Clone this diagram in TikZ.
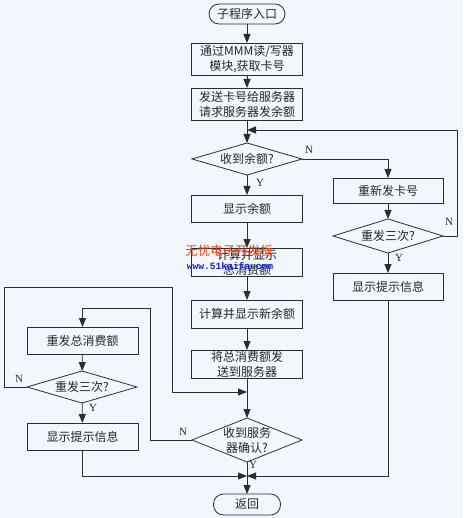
\documentclass[tikz,border=0pt]{standalone}
\usepackage{fontspec}
\setmainfont{Liberation Serif}
\newfontfamily\cjk{Noto Sans CJK SC}
\newfontfamily\wmono{Liberation Mono}
\usetikzlibrary{shapes.geometric,arrows.meta}
\definecolor{bgc}{RGB}{241,247,253}
\definecolor{lnc}{RGB}{45,45,45}
\definecolor{wmred}{RGB}{255,60,10}
\definecolor{wmblue}{RGB}{20,30,230}
\begin{document}
\begin{tikzpicture}[x=1pt,y=-1pt,
  every node/.style={inner sep=0pt,outer sep=0pt},
  ln/.style={draw=lnc,line width=0.8pt},
  arr/.style={ln,-{Triangle[length=9pt,width=7pt]}},
  proc/.style={draw=lnc,line width=0.8pt,rectangle,minimum width=111pt,align=center,
    font=\cjk\fontsize{12}{15}\selectfont,text=black!85},
  term/.style={draw=lnc,line width=0.8pt,rectangle,rounded corners=10pt,
    font=\cjk\fontsize{12}{15}\selectfont,text=black!85},
  dec/.style={draw=lnc,line width=0.8pt,diamond,minimum width=110pt},
  dtxt/.style={align=center,font=\cjk\fontsize{12}{15}\selectfont,text=black!85},
  lab/.style={font=\fontsize{11}{12}\selectfont,text=black!85}
]
\fill[bgc] (0,0) rectangle (463,518);
\useasboundingbox (0,0) rectangle (463,518);

% main column
\node[term,minimum width=76pt,minimum height=20pt] (start) at (247,14) {子程序入口};
\node[proc,minimum height=32pt] (b1) at (247,59) {通过MMM读/写器\\模块,获取卡号};
\node[proc,minimum height=32pt] (b2) at (247,104) {发送卡号给服务器\\请求服务器发余额};
\node[dec,minimum height=32pt] (d1) at (247,159) {};
\node[dtxt] (d1t) at (d1) {收到余额?};
\node[proc,minimum height=27pt] (b3) at (247,208.5) {显示余额};
\node[proc,minimum height=28pt] (b4) at (247,262) {计算并显示\\总消费额};
\node[proc,minimum height=28pt] (b5) at (247,314) {计算并显示新余额};
\node[proc,minimum height=28pt] (b6) at (247,364) {将总消费额发\\送到服务器};
\node[dec,minimum height=44pt] (d4) at (247,440) {};
\node[dtxt] (d4t) at (d4) {收到服务\\器确认?};
\node[term,minimum width=67pt,minimum height=21pt] (ret) at (247,504.5) {返回};

% right column
\node[proc,minimum width=110pt,minimum height=25pt] (r1) at (388,190.5) {重新发卡号};
\node[dec,minimum height=34pt] (d2) at (388,236) {};
\node[dtxt] (d2t) at (d2) {重发三次?};
\node[proc,minimum width=110pt,minimum height=27pt] (r2) at (388,286.5) {显示提示信息};

% left column
\node[proc,minimum width=111pt,minimum height=27pt] (l1) at (82.5,340.5) {重发总消费额};
\node[dec,minimum height=32pt] (d3) at (82,387) {};
\node[dtxt] (d3t) at (d3) {重发三次?};
\node[proc,minimum width=111pt,minimum height=27pt] (l2) at (82.5,436.5) {显示提示信息};

% helper coordinates
\coordinate (j1) at (247,130);
\coordinate (j2) at (247,392);
\coordinate (m) at (247,476);

% main connectors
\draw[arr] (start) -- (b1);
\draw[arr] (b1) -- (b2);
\draw[arr] (b2) -- (d1);
\draw[arr] (d1) -- (b3);
\draw[arr] (b3) -- (b4);
\draw[arr] (b4) -- (b5);
\draw[arr] (b5) -- (b6);
\draw[arr] (b6) -- (d4);
\draw[arr] (d4) -- (ret);

% right branch
\draw[arr] (d1.east) -| (r1.north);
\draw[arr] (r1) -- (d2);
\draw[arr] (d2) -- (r2);
\draw[arr] (d2.east) -- (457,236) -- (457,130) -- (j1);
\draw[arr] (r2.south) |- (m);

% left branch
\draw[arr] (d4.west) -- (150,440) -- (150,308) -| (l1.north);
\draw[arr] (l1) -- (d3);
\draw[arr] (d3) -- (l2);
\draw[arr] (d3.west) -- (4,387) -- (4,287) -- (172,287) -- (172,392) -- (j2);
\draw[arr] (l2.south) |- (m);

% labels
\node[lab] (yd1) at (260,183) {Y};
\node[lab] (nd1) at (309,150) {N};
\node[lab] (yd2) at (399,258) {Y};
\node[lab] (nd2) at (449,222) {N};
\node[lab] (yd3) at (93,408) {Y};
\node[lab] (nd3) at (19,379) {N};
\node[lab] (yd4) at (253,465) {Y};
\node[lab] (nd4) at (183,432) {N};

% watermark
\node[font=\cjk\fontsize{12.5}{13}\selectfont,text=wmred] (wm1) at (229,251) {无忧电子开发板};
\node[font=\wmono\bfseries\fontsize{9.6}{10}\selectfont,text=wmblue] (wm2) at (230,266) {www.51kaifa.com};
\end{tikzpicture}
\end{document}
